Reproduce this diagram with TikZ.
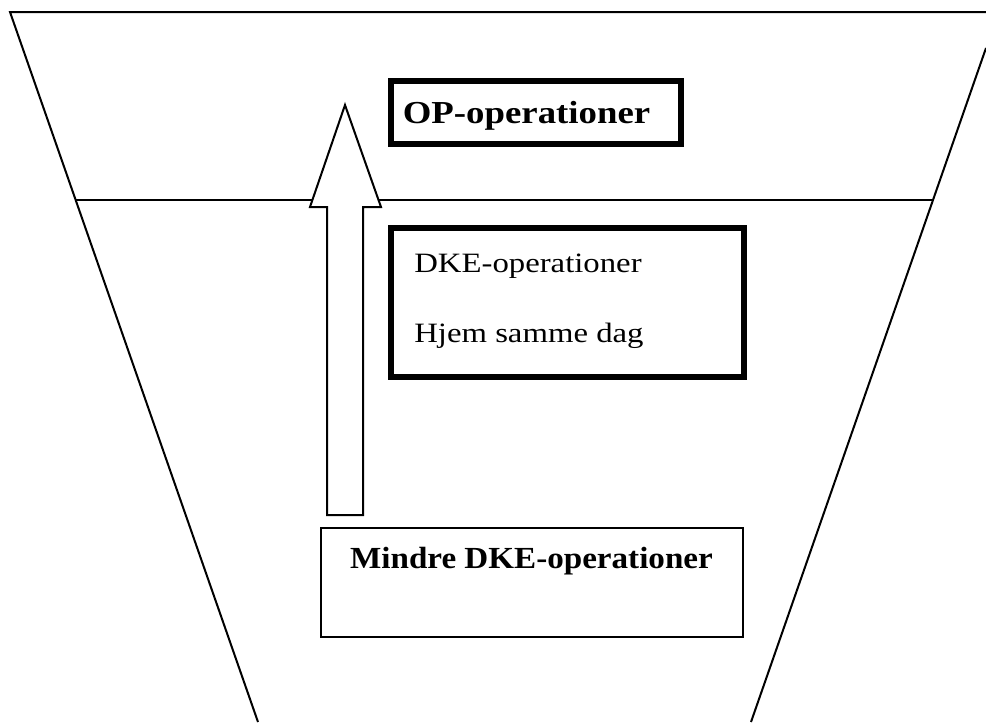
\documentclass[tikz,border=0pt]{standalone}
\usepackage{fontspec}
\setmainfont{Liberation Serif}
\newfontfamily\regfont[FakeStretch=1.17]{Liberation Serif}
\newfontfamily\boldfont[FakeStretch=1.08]{Liberation Serif Bold}
\newfontfamily\opfont[FakeStretch=1.15]{Liberation Serif Bold}
\begin{document}
\begin{tikzpicture}[x=0.75pt,y=-0.75pt,
  thin line/.style={line width=1.5pt,line join=miter},
  thickbox/.style={draw,line width=4.5pt,inner sep=0pt},
  thinbox/.style={draw,line width=1.5pt,inner sep=0pt},
  lbl/.style={inner sep=0pt,font=\regfont\fontsize{21pt}{24pt}\selectfont},
  blbl/.style={inner sep=0pt,font=\boldfont\fontsize{23pt}{26pt}\selectfont},
  oplbl/.style={inner sep=0pt,font=\opfont\fontsize{24pt}{27pt}\selectfont}]
\useasboundingbox (0,0) rectangle (986,722);
% funnel
\coordinate (tl) at (10,12);
\coordinate (tr) at (986,12);
\coordinate (bl) at (258,722);
\coordinate (rtop) at (986,48);
\coordinate (br) at (751,722);
\coordinate (ml) at (75.7,200);
\coordinate (mr) at (933,200);
\draw[thin line] (tr) -- (tl) -- (bl);
\draw[thin line] (rtop) -- (br);
\draw[thin line] (ml) -- (mr);
% boxes
\node[thickbox,minimum width=290*0.75pt,minimum height=63*0.75pt] (op) at (536,112.5) {};
\node[oplbl,anchor=base] (optxt) at (526.5,123) {OP-operationer};
\node[thickbox,minimum width=353*0.75pt,minimum height=149*0.75pt] (dke) at (567.5,302.5) {};
\node[lbl,anchor=base west] (dke1) at (414,272) {DKE-operationer};
\node[lbl,anchor=base west] (dke2) at (414,342) {Hjem samme dag};
\node[thinbox,minimum width=422*0.75pt,minimum height=109*0.75pt] (mindre) at (532,582.5) {};
\node[blbl,anchor=base] (mtxt) at (531.5,568) {Mindre DKE-operationer};
% block arrow
\draw[thin line,fill=white] (345,105) -- (381,207) -- (363,207) -- (363,515) -- (327,515) -- (327,207) -- (310,207) -- cycle;
\end{tikzpicture}
\end{document}
